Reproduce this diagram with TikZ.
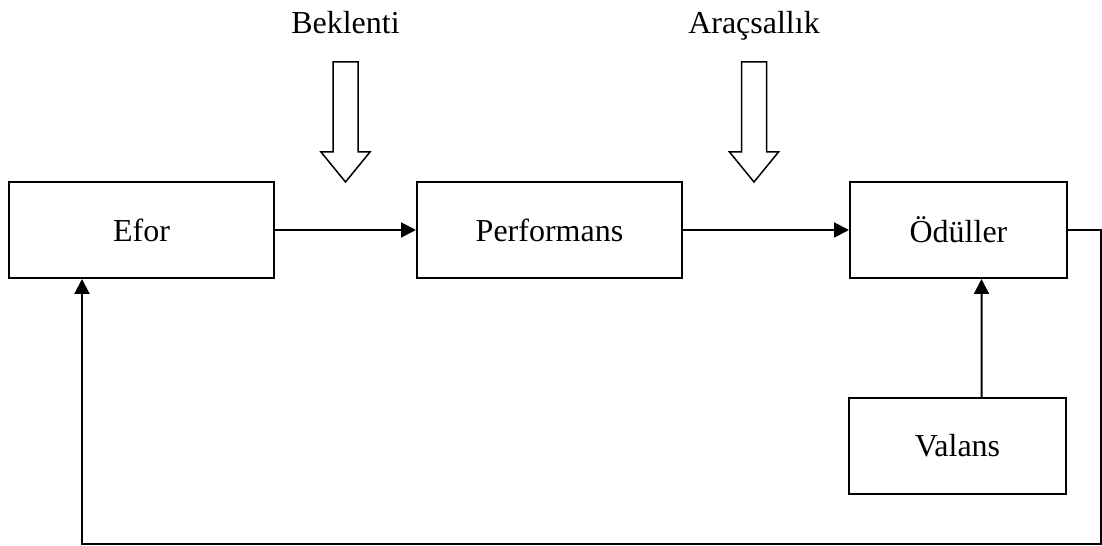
\documentclass[tikz,border=0pt]{standalone}
\usepackage{fontspec}
\setmainfont{Liberation Serif}
\usetikzlibrary{arrows.meta}
\begin{document}
\begin{tikzpicture}[x=1bp,y=-1bp,
    font=\fontsize{32bp}{38bp}\selectfont,
    block/.style={draw, line width=2bp, minimum height=96bp, inner sep=0pt},
    conn/.style={line width=2bp, -{Triangle[length=15bp,width=15bp]}},
    hollow/.style={draw, line width=1.5bp, fill=white, line join=miter},
    caption/.style={inner sep=0pt, anchor=base}]
  \useasboundingbox (0,0) rectangle (1102,546);

  % main chain
  \node[block, minimum width=265bp] (efor)   at (141.5,230) {Efor};
  \node[block, minimum width=265bp] (perf)   at (549.5,230) {Performans};
  \node[block, minimum width=217bp] (odul)   at (958.5,230) {Ödüller};
  \node[block, minimum width=217bp] (valans) at (957.5,446) {Valans};

  \draw[conn] (efor.east) -- (perf.west);
  \draw[conn] (perf.east) -- (odul.west);
  \draw[conn] ([xshift=24bp]valans.north) -- ([xshift=23bp]odul.south);

  % feedback loop from rewards back to effort
  \coordinate (fbR) at (1101,544);
  \coordinate (fbL) at (82,544);
  \draw[conn] (odul.east) -| (fbR) -- (fbL) -- (fbL |- efor.south);

  % influencing factors with hollow arrows
  \coordinate (bk) at (345.5,0);
  \coordinate (ar) at (754,0);
  \node[caption] (bklabel) at (345.5,34) {Beklenti};
  \node[caption] (arlabel) at (754,34) {Araçsallık};
  \foreach \c in {bk,ar}{
    \draw[hollow] ([shift={(-12.5,62)}]\c) -- ([shift={(12.5,62)}]\c)
      -- ([shift={(12.5,152)}]\c) -- ([shift={(24.5,152)}]\c)
      -- ([shift={(0,182)}]\c) -- ([shift={(-24.5,152)}]\c)
      -- ([shift={(-12.5,152)}]\c) -- cycle;
  }
\end{tikzpicture}
\end{document}
